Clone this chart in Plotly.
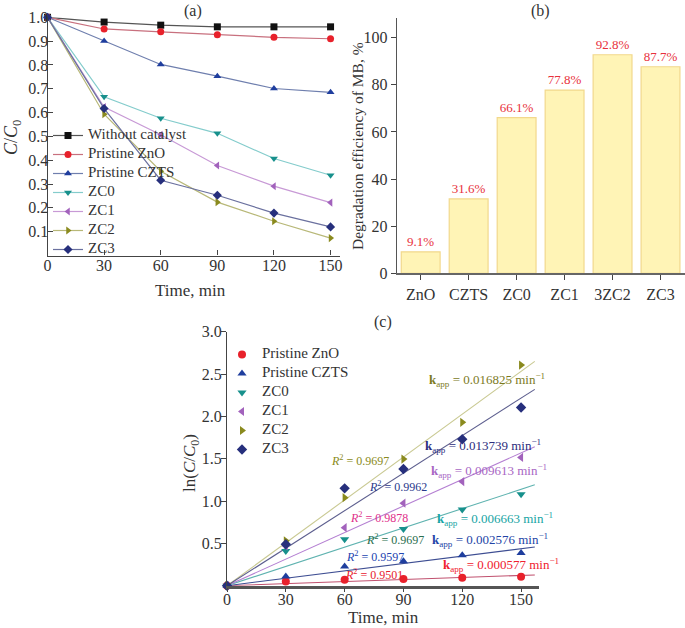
import plotly.graph_objects as go

W, H = 685, 628
FONT = "Liberation Serif"
TXT = "#333333"

# ---------------- data: panel (a) C/C0 vs time ----------------
time_a = [0, 30, 60, 90, 120, 150]
series_a_names = ["Without catalyst", "Pristine ZnO", "Pristine CZTS", "ZC0", "ZC1", "ZC2", "ZC3"]
without_catalyst = [1.0, 0.980, 0.967, 0.960, 0.960, 0.960]
pristine_zno = [1.0, 0.951, 0.939, 0.927, 0.916, 0.910]
pristine_czts = [1.0, 0.900, 0.802, 0.753, 0.701, 0.685]
zc0 = [1.0, 0.666, 0.576, 0.513, 0.407, 0.337]
zc1 = [1.0, 0.623, 0.507, 0.378, 0.291, 0.222]
zc2 = [1.0, 0.593, 0.354, 0.224, 0.144, 0.073]
zc3 = [1.0, 0.617, 0.316, 0.253, 0.178, 0.120]

# ---------------- data: panel (b) degradation efficiency ----------------
cats_b = ["ZnO", "CZTS", "ZC0", "ZC1", "3ZC2", "ZC3"]
eff_b = [9.1, 31.6, 66.1, 77.8, 92.8, 87.7]

# ---------------- data: panel (c) ln(C0/C) vs time ----------------
time_c = [0, 30, 60, 90, 120, 150]
series_c_names = ["Pristine ZnO", "Pristine CZTS", "ZC0", "ZC1", "ZC2", "ZC3"]
ln_zno = [0.0, 0.05, 0.07, 0.08, 0.095, 0.105]
ln_czts = [0.0, 0.11, 0.228, 0.29, 0.36, 0.385]
ln_zc0 = [0.0, 0.41, 0.55, 0.67, 0.90, 1.08]
ln_zc1 = [0.0, 0.47, 0.685, 0.975, 1.23, 1.515]
ln_zc2 = [0.0, 0.53, 1.04, 1.496, 1.93, 2.606]
ln_zc3 = [0.0, 0.49, 1.15, 1.378, 1.73, 2.105]
kapp_labels = ["0.000577", "0.002576", "0.006663", "0.009613", "0.016825", "0.013739"]
r2_labels = ["0.9501", "0.9597", "0.9697", "0.9878", "0.9697", "0.9962"]
fit_xmax = 157

# ---------------- styles ----------------
symbols_a = ["square", "circle", "triangle-up", "triangle-down", "triangle-left", "triangle-right", "diamond"]
mcolors_a = ["#111111", "#e8212b", "#1f3e9e", "#17908c", "#a262bc", "#8a8a1e", "#262f7c"]
lcolors_a = ["#555555", "#c8707e", "#6f7fae", "#84cccc", "#c89ad6", "#b8b878", "#6b719f"]
data_a = [without_catalyst, pristine_zno, pristine_czts, zc0, zc1, zc2, zc3]

symbols_c = symbols_a[1:]
mcolors_c = mcolors_a[1:]
fitcolors_c = ["#c0506e", "#3d4d92", "#5fb3b0", "#b47fd2", "#c9c992", "#5c5e8e"]
data_c = [ln_zno, ln_czts, ln_zc0, ln_zc1, ln_zc2, ln_zc3]
kcolors = ["#f0202e", "#2344a6", "#16a4a4", "#a866c4", "#7c7a1e", "#2c2c7c"]
rcolors = ["#e8202e", "#2244b0", "#2a6e4e", "#e0308a", "#8a8a20", "#2a3a8c"]
# annotation positions (data coords of panel c)
kpos = [(140, 0.245), (134, 0.535), (136.5, 0.79), (133.5, 1.35), (132.5, 2.43), (130.5, 1.645)]
rpos = [(75, 0.135), (75.5, 0.35), (85.5, 0.545), (77.5, 0.80), (68, 1.475), (87, 1.175)]

fig = go.Figure()

# panel (a)
for name, ys, sym, mc, lc in zip(series_a_names, data_a, symbols_a, mcolors_a, lcolors_a):
    fig.add_trace(go.Scatter(
        x=time_a, y=ys, name=f'<span style="font-size:15px">{name}</span>',
        mode="lines+markers", xaxis="x", yaxis="y", legend="legend",
        line=dict(color=lc, width=1.2),
        marker=dict(symbol=sym, color=mc, size=7),
        cliponaxis=False,
    ))

# panel (b)
fig.add_trace(go.Bar(
    x=cats_b, y=eff_b, xaxis="x2", yaxis="y2", showlegend=False,
    marker=dict(color="#fff4b6", line=dict(color="#f2d88c", width=1.2)),
    text=[f"{v}%" for v in eff_b], textposition="outside",
    textfont=dict(family=FONT, size=13, color="#e8303c"),
    cliponaxis=False, width=0.81,
))

# panel (c) fit lines (least squares through origin)
for ys, fc in zip(data_c, fitcolors_c):
    sxy = sum(x * y for x, y in zip(time_c, ys))
    sxx = sum(x * x for x in time_c)
    slope = sxy / sxx
    fig.add_trace(go.Scatter(
        x=[0, fit_xmax], y=[0, slope * fit_xmax], mode="lines",
        xaxis="x3", yaxis="y3", showlegend=False,
        line=dict(color=fc, width=1.1), hoverinfo="skip",
    ))

# panel (c) points
for name, ys, sym, mc in zip(series_c_names, data_c, symbols_c, mcolors_c):
    fig.add_trace(go.Scatter(
        x=time_c, y=ys, name=f'<span style="font-size:15px">{name}</span>',
        mode="markers", xaxis="x3", yaxis="y3", legend="legend2",
        marker=dict(symbol=sym, color=mc, size=8), cliponaxis=False,
    ))

annotations = []
for (kx, ky), (rx, ry), kc, rc, kt, rt in zip(kpos, rpos, kcolors, rcolors, kapp_labels, r2_labels):
    annotations.append(dict(
        x=kx, y=ky, xref="x3", yref="y3", showarrow=False,
        text=f"<b>k</b><sub>app</sub> = {kt} min<sup>\u22121</sup>",
        font=dict(family=FONT, size=13, color=kc)))
    annotations.append(dict(
        x=rx, y=ry, xref="x3", yref="y3", showarrow=False,
        text=f"<i>R</i><sup>2</sup> = {rt}",
        font=dict(family=FONT, size=12, color=rc)))


def pa(x, y, text, size, angle=0, color=TXT):
    annotations.append(dict(x=x / W, y=1 - y / H, xref="paper", yref="paper",
                            text=text, showarrow=False, textangle=angle,
                            xanchor="center", yanchor="middle",
                            font=dict(family=FONT, size=size, color=color)))


pa(193, 11, "(a)", 16)
pa(540, 11, "(b)", 16)
pa(383, 322, "(c)", 16)
pa(190, 290, "Time, min", 17)
pa(12, 138, "<i>C</i>/<i>C</i><sub>0</sub>", 18, -90)
pa(357, 146, "Degradation efficiency of MB, %", 15.5, -90)
pa(383, 617, "Time, min", 17)
pa(191, 463, "ln(<i>C</i>/<i>C</i><sub>0</sub>)", 17, -90)

tickfont = dict(family=FONT, size=16, color=TXT)
common = dict(showgrid=False, zeroline=False, showline=True, tickfont=tickfont,
              tickcolor="#444", mirror=False, automargin=False)

fig.update_layout(
    template="none",
    width=W, height=H, margin=dict(l=0, r=0, t=0, b=0, autoexpand=False),
    paper_bgcolor="white", plot_bgcolor="white",
    font=dict(family=FONT, color=TXT),
    bargap=0.19,
    xaxis=dict(domain=[47.5 / W, 340 / W], range=[0, 155], anchor="y",
               tickvals=[0, 30, 60, 90, 120, 150], ticks="inside", ticklen=5,
               ticklabelstandoff=-5,
               linecolor="#444", linewidth=1.2, **common),
    yaxis=dict(domain=[1 - 255.5 / H, 1 - 17.3 / H], range=[0, 1.0], anchor="x",
               tickvals=[0.1, 0.2, 0.3, 0.4, 0.5, 0.6, 0.7, 0.8, 0.9, 1.0],
               ticktext=["0.1", "0.2", "0.3", "0.4", "0.5", "0.6", "0.7", "0.8", "0.9", "1.0"],
               ticks="inside", ticklen=5, ticklabelstandoff=-5,
               linecolor="#444", linewidth=1.2, **common),
    xaxis2=dict(domain=[396.7 / W, 684.5 / W], anchor="y2", type="category",
                ticks="outside", ticklen=5,
                linecolor="#666", linewidth=2, **common),
    yaxis2=dict(domain=[1 - 273.3 / H, 1 - 18 / H], range=[0, 108.4], anchor="x2",
                tickvals=[0, 20, 40, 60, 80, 100], ticks="outside", ticklen=5,
                linecolor="#555", linewidth=1.2, **common),
    xaxis3=dict(domain=[227 / W, 539.3 / W], range=[0, 159.3], anchor="y3",
                tickvals=[0, 30, 60, 90, 120, 150], ticks="outside", ticklen=4,
                ticklabelstandoff=-7,
                linecolor="#555", linewidth=2.5, **common),
    yaxis3=dict(domain=[1 - 585.7 / H, 1 - 331.7 / H], range=[0, 3.0], anchor="x3",
                tickvals=[0.5, 1.0, 1.5, 2.0, 2.5, 3.0],
                ticktext=["0.5", "1.0", "1.5", "2.0", "2.5", "3.0"],
                ticks="outside", ticklen=5, ticklabelstandoff=-4,
                linecolor="#444", linewidth=1.2, **common),
    legend=dict(x=48 / W, y=1 - 121 / H, xanchor="left", yanchor="top",
                bgcolor="rgba(0,0,0,0)", font=dict(family=FONT, size=10, color=TXT),
                itemwidth=30, tracegroupgap=0),
    legend2=dict(x=222 / W, y=1 - 340 / H, xanchor="left", yanchor="top",
                 bgcolor="rgba(0,0,0,0)", font=dict(family=FONT, size=10, color=TXT),
                 itemwidth=30, tracegroupgap=0),
    annotations=annotations,
)

fig.write_html("out.html", config={"displayModeBar": False},
               post_script="document.body.style.margin='0';")
